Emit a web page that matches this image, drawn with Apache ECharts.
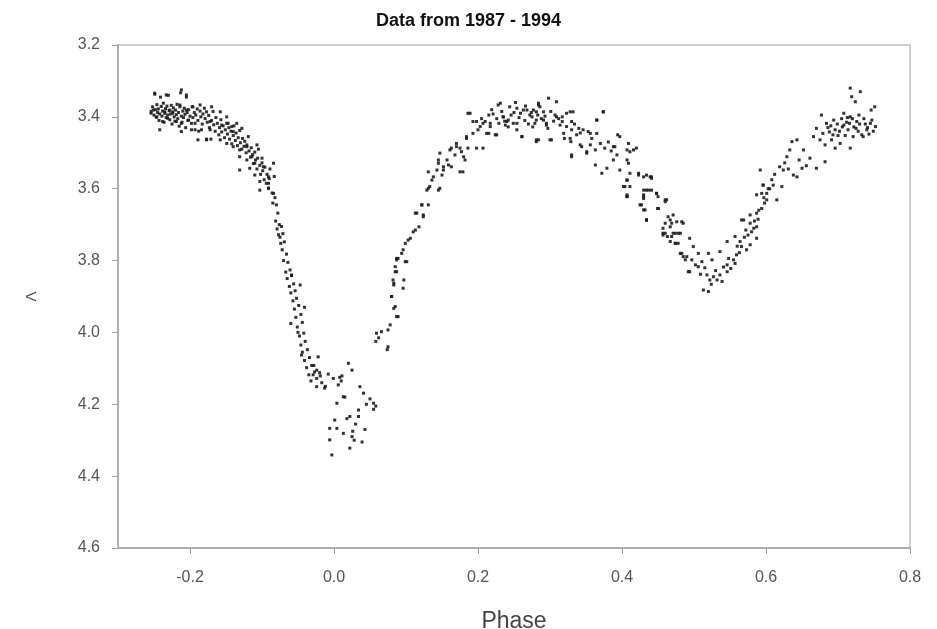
<!DOCTYPE html>
<html>
<head>
<meta charset="utf-8">
<script src="https://cdn.jsdelivr.net/npm/echarts@6/dist/echarts.min.js"></script>
<style>html,body{margin:0;padding:0;background:#fff}#c{width:937px;height:629px}</style>
</head>
<body>
<div id="c"></div>
<script>
var titleText = "Data from 1987 - 1994";
var xName = "Phase";
var yName = "V";
var xTicks = [-0.2, 0.0, 0.2, 0.4, 0.6, 0.8];

// [phase, V], grouped by part of the light curve
var leftShoulder = [[-0.254,3.385],[-0.252,3.372],[-0.250,3.395],[-0.249,3.337],[-0.248,3.380],[-0.247,3.401],[-0.246,3.366],[-0.245,3.388],[-0.244,3.378],[-0.243,3.410],[-0.242,3.392],[-0.241,3.345],[-0.240,3.371],[-0.239,3.398],[-0.238,3.384],[-0.237,3.362],[-0.236,3.415],[-0.235,3.390],[-0.234,3.377],[-0.233,3.402],[-0.232,3.370],[-0.231,3.395],[-0.230,3.340],[-0.229,3.383],[-0.228,3.408],[-0.227,3.392],[-0.226,3.368],[-0.225,3.420],[-0.224,3.386],[-0.223,3.375],[-0.222,3.400],[-0.221,3.412],[-0.220,3.381],[-0.219,3.394],[-0.218,3.365],[-0.217,3.405],[-0.216,3.388],[-0.215,3.426],[-0.214,3.372],[-0.213,3.333],[-0.212,3.398],[-0.211,3.415],[-0.210,3.384],[-0.209,3.402],[-0.208,3.376],[-0.207,3.393],[-0.206,3.430],[-0.205,3.345],[-0.204,3.388],[-0.203,3.410],[-0.202,3.380],[-0.200,3.398],[-0.198,3.418],[-0.197,3.372],[-0.196,3.402],[-0.194,3.388],[-0.193,3.436],[-0.192,3.395],[-0.190,3.378],[-0.189,3.410],[-0.188,3.440],[-0.186,3.384],[-0.185,3.400],[-0.183,3.420],[-0.182,3.392],[-0.180,3.376],[-0.179,3.405],[-0.177,3.462],[-0.176,3.415],[-0.174,3.396],[-0.173,3.430],[-0.171,3.462],[-0.170,3.410],[-0.168,3.385],[-0.167,3.422],[-0.165,3.440],[-0.164,3.402],[-0.162,3.418],[-0.160,3.450],[-0.159,3.430],[-0.157,3.408],[-0.156,3.442],[-0.154,3.425],[-0.152,3.458],[-0.151,3.436],[-0.149,3.418],
[-0.249,3.334],[-0.233,3.339],[-0.212,3.325],[-0.205,3.339],[-0.251,3.381],[-0.254,3.390],[-0.246,3.400],[-0.235,3.386],[-0.228,3.381],[-0.224,3.390],[-0.231,3.404],[-0.238,3.413],[-0.242,3.436],[-0.214,3.367],[-0.205,3.381],[-0.196,3.372],[-0.186,3.367],[-0.177,3.386],[-0.170,3.372],[-0.219,3.413],[-0.212,3.418],[-0.202,3.409],[-0.193,3.418],[-0.212,3.441],[-0.198,3.436],[-0.184,3.436],[-0.172,3.436],[-0.189,3.464],[-0.177,3.464],[-0.172,3.413],[-0.158,3.386],[-0.149,3.400],[-0.156,3.423],[-0.147,3.418],[-0.142,3.427],[-0.135,3.418],[-0.128,3.432],[-0.140,3.441],[-0.158,3.464],[-0.149,3.474],[-0.140,3.483],[-0.131,3.492],[-0.121,3.483],[-0.107,3.478],[-0.131,3.511],[-0.121,3.520],[-0.114,3.511],[-0.110,3.529],[-0.100,3.515],[-0.131,3.548],[-0.117,3.543],[-0.110,3.562],[-0.098,3.539],[-0.091,3.567],[-0.103,3.580],[-0.103,3.604],[-0.091,3.599],[-0.084,3.613],[-0.084,3.529]];

var primaryIngress = [[-0.148,3.448],[-0.146,3.430],[-0.145,3.462],[-0.143,3.440],[-0.142,3.475],[-0.140,3.452],[-0.139,3.425],[-0.137,3.466],[-0.136,3.445],[-0.134,3.480],[-0.133,3.458],[-0.131,3.438],[-0.130,3.472],[-0.128,3.490],[-0.127,3.460],[-0.125,3.482],[-0.124,3.468],[-0.122,3.500],[-0.121,3.478],[-0.119,3.455],[-0.118,3.495],[-0.116,3.512],[-0.115,3.486],[-0.113,3.505],[-0.112,3.530],[-0.110,3.498],[-0.109,3.520],[-0.107,3.545],[-0.106,3.515],[-0.105,3.490],[-0.103,3.535],[-0.102,3.560],[-0.100,3.528],[-0.099,3.550],[-0.097,3.575],[-0.096,3.540],[-0.094,3.585],[-0.093,3.560],[-0.091,3.598],[-0.090,3.572],
[-0.089,3.545],[-0.086,3.612],[-0.091,3.585],[-0.083,3.566],[-0.082,3.625],[-0.080,3.645],[-0.085,3.640],[-0.078,3.668],[-0.081,3.690],[-0.076,3.700],[-0.079,3.712],[-0.073,3.705],[-0.077,3.728],[-0.075,3.735],[-0.071,3.725],[-0.074,3.752],[-0.069,3.748],[-0.072,3.770],[-0.066,3.782],[-0.070,3.800],[-0.064,3.805],[-0.067,3.832],[-0.061,3.826],[-0.065,3.850],[-0.059,3.842],[-0.062,3.872],[-0.056,3.865],[-0.060,3.890],[-0.054,3.884],[-0.057,3.912],[-0.052,3.905],[-0.055,3.935],[-0.049,3.925],[-0.053,3.958],[-0.046,3.950],[-0.051,3.985],[-0.044,3.972],[-0.048,4.010],[-0.042,4.002],[-0.046,4.035],[-0.040,4.025],[-0.044,4.055],[-0.037,4.048],[-0.041,4.078],[-0.034,4.070],[-0.038,4.098],[-0.031,4.092],[-0.035,4.118],[-0.027,4.110],[-0.032,4.135],[-0.024,4.128],[-0.028,4.092],[-0.020,4.112],[-0.017,4.140],[-0.060,3.975],[-0.041,3.930],
[-0.059,3.840],[-0.047,3.868],[-0.050,4.000],[-0.045,4.063],[-0.022,4.068],[-0.029,4.118],[-0.024,4.151],[-0.013,4.155]];

var primaryMin = [[-0.008,4.116],[-0.001,4.128],[0.011,4.121],[0.020,4.086],[0.025,4.105],[0.006,4.146],[0.036,4.151],[0.041,4.169],[0.013,4.179],[0.004,4.197],[0.055,4.197],[0.055,4.214],[0.034,4.216],[0.034,4.234],[0.022,4.234],[0.001,4.244],[0.043,4.270],[-0.006,4.267],[0.004,4.267],[0.013,4.281],[0.025,4.290],[-0.006,4.299],[0.022,4.322],[-0.003,4.341],[-0.019,4.121],[-0.024,4.105],[0.008,4.125],[0.015,4.180],[0.028,4.300],[0.030,4.255],[0.018,4.240],[0.010,4.135],[-0.012,4.150],[0.045,4.200],[0.050,4.185],[0.058,4.205],[0.039,4.305],[0.026,4.275]];

var primaryEgress = [[0.059,4.002],[0.066,3.998],[0.075,4.040],[0.075,3.993],[0.078,3.979],[0.087,3.956],[0.083,3.933],[0.080,3.900],[0.083,3.868],[0.087,3.831],[0.087,3.794],[0.058,4.025],[0.062,4.015],[0.074,4.048],
[0.083,3.863],[0.097,3.854],[0.085,3.831],[0.087,3.798],[0.101,3.803],[0.094,3.780],[0.099,3.752],[0.106,3.738],[0.113,3.715],[0.118,3.706],[0.113,3.668],[0.124,3.673],[0.122,3.645],[0.131,3.645],[0.131,3.599],[0.145,3.604],[0.136,3.576],[0.131,3.553],[0.143,3.548],[0.150,3.562],[0.152,3.539],[0.159,3.534],[0.145,3.520],[0.147,3.501],[0.161,3.492],[0.170,3.483],[0.182,3.520],[0.179,3.553],[0.177,3.497],[0.186,3.487],[0.198,3.487],[0.207,3.487],[0.184,3.455],[0.193,3.446],[0.203,3.427],[0.189,3.390],[0.198,3.413],[0.215,3.395],[0.210,3.413],[0.217,3.418],[0.215,3.446],[0.226,3.450],
[0.217,3.427],[0.207,3.418],[0.200,3.436],[0.212,3.446],[0.224,3.450],[0.186,3.390],[0.193,3.413],[0.184,3.460],[0.170,3.474],[0.163,3.487],[0.175,3.487],[0.168,3.506],[0.180,3.511],[0.157,3.520],[0.163,3.539],[0.175,3.553],[0.152,3.548],[0.145,3.529],[0.138,3.567],[0.133,3.594],[0.147,3.599],[0.129,3.604],[0.122,3.645],[0.115,3.668],[0.124,3.678],[0.110,3.720],[0.103,3.743],[0.096,3.770],[0.089,3.794],[0.085,3.817],[0.099,3.803],[0.082,3.854],[0.096,3.877],[0.080,3.900],[0.085,3.928],[0.089,3.956]];

var maxPeak = [[0.228,3.367],[0.235,3.400],[0.240,3.413],[0.244,3.372],[0.254,3.376],[0.254,3.418],[0.263,3.381],[0.261,3.455],[0.272,3.395],[0.279,3.418],[0.281,3.464],[0.284,3.367],
[0.298,3.348],[0.309,3.358],[0.284,3.362],[0.277,3.381],[0.291,3.386],[0.307,3.395],[0.317,3.400],[0.328,3.386],[0.374,3.386],[0.281,3.409],[0.295,3.418],[0.314,3.423],[0.330,3.413],[0.365,3.409],[0.340,3.432],[0.353,3.441],[0.365,3.446],[0.284,3.464],[0.300,3.464],[0.320,3.460],[0.329,3.469],[0.394,3.450],[0.356,3.478],[0.370,3.474],[0.344,3.483],[0.363,3.492],[0.376,3.487],[0.390,3.483],[0.409,3.474],[0.420,3.487],[0.393,3.506],[0.411,3.497],[0.330,3.506],[0.351,3.501],[0.388,3.520],[0.407,3.520],[0.363,3.534],[0.379,3.543],[0.372,3.557],[0.397,3.548],[0.411,3.557],[0.423,3.557],[0.434,3.562],[0.441,3.571],
[0.231,3.362],[0.235,3.400],[0.242,3.409],[0.249,3.418],[0.238,3.423],[0.254,3.436],[0.261,3.455],[0.268,3.381],[0.275,3.400],[0.281,3.386],[0.286,3.372],[0.291,3.409],[0.295,3.423],[0.281,3.469],[0.302,3.464],[0.309,3.400],[0.317,3.413],[0.323,3.390],[0.332,3.386],[0.323,3.427],[0.330,3.436],[0.319,3.446],[0.328,3.460],[0.337,3.450],[0.346,3.436],[0.356,3.446],[0.365,3.409],[0.374,3.386],[0.330,3.511],[0.342,3.478],[0.351,3.497],[0.397,3.455],[0.388,3.483],[0.407,3.492],[0.416,3.492],[0.409,3.529],
[0.205,3.405],[0.221,3.392],[0.226,3.405],[0.233,3.385],[0.237,3.412],[0.246,3.395],[0.250,3.388],[0.257,3.402],[0.259,3.390],[0.265,3.410],[0.270,3.420],[0.274,3.388],[0.283,3.395],[0.288,3.405],[0.293,3.398],[0.301,3.385],[0.305,3.412],[0.312,3.405],[0.219,3.380],[0.229,3.418],[0.242,3.428],[0.252,3.360],[0.266,3.370],[0.276,3.428],[0.297,3.432],[0.334,3.420],[0.342,3.445],[0.358,3.460],[0.381,3.470],[0.385,3.495]];

var secondaryIngress = [[0.407,3.576],[0.411,3.594],[0.407,3.622],[0.430,3.604],[0.437,3.604],[0.448,3.613],[0.460,3.631],[0.430,3.627],[0.425,3.645],[0.432,3.659],[0.450,3.655],[0.434,3.687],[0.471,3.673],[0.460,3.696],[0.467,3.706],[0.476,3.692],[0.485,3.696],[0.460,3.724],[0.469,3.733],[0.478,3.724],[0.474,3.752],[0.481,3.780],[0.488,3.798],[0.492,3.831],
[0.404,3.594],[0.407,3.622],[0.430,3.617],[0.441,3.604],[0.450,3.622],[0.460,3.636],[0.427,3.645],[0.430,3.659],[0.450,3.655],[0.434,3.687],[0.464,3.678],[0.469,3.696],[0.457,3.710],[0.483,3.692],[0.463,3.733],[0.474,3.724],[0.481,3.724],[0.467,3.747],[0.478,3.752],[0.494,3.738],[0.499,3.761],[0.483,3.780],[0.490,3.789],
[0.407,3.576],[0.407,3.617],[0.430,3.622],[0.434,3.687],[0.450,3.655],[0.462,3.631],[0.467,3.687],[0.471,3.724],[0.457,3.729],[0.474,3.752],[0.430,3.567],[0.439,3.567],[0.423,3.562],[0.402,3.594],[0.434,3.604],[0.441,3.567],[0.448,3.613],[0.485,3.789],[0.457,3.724]];

var secondaryMin = [[0.506,3.780],[0.520,3.780],[0.497,3.798],[0.511,3.803],[0.506,3.817],[0.515,3.820],[0.494,3.831],[0.525,3.798],[0.536,3.775],[0.546,3.747],[0.557,3.733],[0.548,3.794],[0.555,3.798],[0.546,3.812],[0.559,3.784],[0.557,3.808],[0.566,3.761],[0.573,3.770],[0.564,3.747],[0.578,3.756],[0.587,3.738],[0.575,3.729],[0.518,3.840],[0.527,3.845],[0.536,3.840],[0.522,3.854],[0.532,3.854],[0.546,3.831],[0.513,3.882],[0.520,3.886],[0.502,3.812],[0.509,3.838],[0.530,3.828],[0.541,3.818],[0.524,3.866],[0.539,3.858],[0.551,3.822]];

var secondaryEgress = [[0.566,3.687],[0.578,3.696],[0.583,3.710],[0.587,3.668],[0.594,3.655],[0.601,3.631],[0.587,3.617],[0.596,3.590],[0.594,3.613],[0.592,3.548],[0.596,3.590],[0.615,3.631],[0.601,3.613],[0.578,3.673],[0.569,3.687],[0.587,3.706],[0.622,3.594],[0.624,3.548],[0.619,3.539],[0.629,3.511],[0.633,3.492],[0.636,3.469],[0.643,3.464],[0.638,3.562],[0.643,3.567],[0.650,3.543],[0.652,3.492],[0.661,3.515],[0.670,3.543],[0.682,3.525],[0.608,3.575],[0.612,3.560],[0.626,3.528],[0.631,3.545],[0.646,3.520],[0.656,3.536],[0.605,3.600],[0.598,3.640],[0.589,3.685],
[0.560,3.760],[0.563,3.778],[0.570,3.735],[0.572,3.715],[0.580,3.720],[0.584,3.690],[0.590,3.660],[0.597,3.625],[0.603,3.600],[0.610,3.590]];

var rightShoulder = [[0.666,3.455],[0.675,3.464],[0.670,3.432],[0.677,3.395],[0.684,3.418],[0.694,3.409],[0.682,3.478],[0.696,3.487],[0.691,3.464],[0.703,3.474],[0.708,3.390],[0.717,3.400],[0.708,3.423],[0.714,3.436],[0.726,3.413],[0.721,3.455],[0.717,3.487],[0.733,3.450],[0.740,3.436],[0.747,3.409],[0.752,3.427],[0.746,3.381],[0.751,3.372],[0.717,3.320],[0.731,3.330],[0.719,3.344],[0.724,3.358],[0.735,3.455],[0.696,3.436],[0.688,3.442],[0.699,3.420],[0.705,3.405],[0.712,3.415],[0.722,3.428],[0.728,3.440],[0.738,3.420],[0.743,3.448],[0.700,3.452],[0.686,3.430],[0.679,3.446],
[0.690,3.425],[0.693,3.450],[0.702,3.440],[0.706,3.428],[0.710,3.452],[0.716,3.418],[0.720,3.405],[0.725,3.432],[0.730,3.420],[0.736,3.405],[0.741,3.430],[0.745,3.418],[0.749,3.440],[0.713,3.402],[0.729,3.395]];

var allPoints = [].concat(leftShoulder, primaryIngress, primaryMin, primaryEgress, maxPeak, secondaryIngress, secondaryMin, secondaryEgress, rightShoulder);

var chart = echarts.init(document.getElementById('c'), null, {renderer: 'canvas'});
var font = '"Liberation Sans", Arial, sans-serif';
chart.setOption({
  animation: false,
  backgroundColor: '#ffffff',
  title: {
    text: titleText, left: 'center', top: 7,
    textStyle: {fontFamily: font, fontSize: 18, fontWeight: 'bold', color: '#111'}
  },
  grid: {left: 118, right: 27, top: 45, bottom: 81, show: true, borderColor: '#cfcfcf', borderWidth: 2, outerBoundsMode: 'none', containLabel: false},
  xAxis: {
    type: 'value', min: -0.3, max: 0.8,
    name: xName, nameLocation: 'middle', nameGap: 62,
    nameTextStyle: {fontFamily: font, fontSize: 23, color: '#444'},
    axisLine: {show: true, onZero: false, lineStyle: {color: '#b0b0b0', width: 2}},
    axisTick: {show: true, length: 6, lineStyle: {color: '#a0a0a0'}, customValues: xTicks},
    axisLabel: {fontFamily: font, fontSize: 16, color: '#555', margin: 22, customValues: xTicks,
      formatter: function (v) { return v.toFixed(1); }},
    splitLine: {show: false}
  },
  yAxis: {
    type: 'value', inverse: true, min: 3.2, max: 4.6, interval: 0.2,
    name: yName, nameLocation: 'middle', nameGap: 80, nameRotate: -90,
    nameTextStyle: {fontFamily: font, fontSize: 15, color: '#555'},
    axisLine: {show: true, onZero: false, lineStyle: {color: '#b0b0b0', width: 2}},
    axisTick: {show: true, length: 6, lineStyle: {color: '#a0a0a0'}},
    axisLabel: {fontFamily: font, fontSize: 16, color: '#555', margin: 18,
      formatter: function (v) { return v.toFixed(1); }},
    splitLine: {show: false}
  },
  series: [{
    type: 'scatter',
    data: allPoints,
    symbol: 'rect',
    symbolSize: 3,
    itemStyle: {color: '#1c1c1c', opacity: 0.9}
  }]
});
</script>
</body>
</html>
